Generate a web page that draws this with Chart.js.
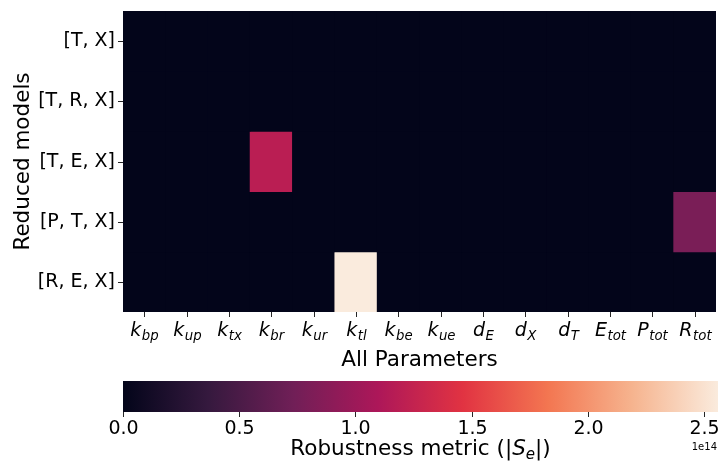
<!DOCTYPE html>
<html><head><meta charset="utf-8">
<script src="https://cdn.jsdelivr.net/npm/chart.js@4/dist/chart.umd.min.js"></script>
<style>
html,body{margin:0;padding:0;background:#fff;}
#wrap{position:relative;width:718px;height:464px;overflow:hidden;background:#fff;}
#c1{position:absolute;left:0;top:0;}
#c2{position:absolute;left:0;top:370px;}
</style></head><body>
<div id="wrap">
<canvas id="c1" width="718" height="370"></canvas>
<canvas id="c2" width="718" height="94"></canvas>
</div>
<script>
// ---- data ----
const rowLabels = ['[T, X]', '[T, R, X]', '[T, E, X]', '[P, T, X]', '[R, E, X]'];
const paramLabels = ['k_bp','k_up','k_tx','k_br','k_ur','k_tl','k_be','k_ue','d_E','d_X','d_T','E_tot','P_tot','R_tot'];
const valsTX  = [0,0,0,0,0,0,0,0,0,0,0,0,0,0];
const valsTRX = [0,0,0,0,0,0,0,0,0,0,0,0,0,0];
const valsTEX = [0,0,0,1.19e14,0,0,0,0,0,0,0,0,0,0];
const valsPTX = [0,0,0,0,0,0,0,0,0,0,0,0,0,0.79e14];
const valsREX = [0,0,0,0,0,2.56e14,0,0,0,0,0,0,0,0];
const colorbarTicks = [0, 0.5e14, 1.0e14, 1.5e14, 2.0e14, 2.5e14];
const colorbarMin = 0;
const colorbarMax = 2.56e14;
const xTitle = 'All Parameters';
const yTitle = 'Reduced models';

// ---- rocket colormap ----
const rocketStops = [
  [0.000, [3,5,26]],
  [0.143, [53,25,62]],
  [0.286, [112,31,87]],
  [0.429, [173,23,89]],
  [0.571, [225,51,66]],
  [0.714, [243,118,81]],
  [0.857, [246,180,143]],
  [1.000, [250,235,221]]
];
function rocketAt(t){
  t = Math.max(0, Math.min(1, t));
  for (let i=1;i<rocketStops.length;i++){
    const [t1,c1]=rocketStops[i], [t0,c0]=rocketStops[i-1];
    if (t<=t1){
      const f=(t-t0)/(t1-t0);
      const c=c0.map((v,k)=>Math.round(v+(c1[k]-v)*f));
      return `rgb(${c[0]},${c[1]},${c[2]})`;
    }
  }
  return 'rgb(250,235,221)';
}
function colorFor(v){ return rocketAt((v-colorbarMin)/(colorbarMax-colorbarMin)); }

const FONT = '"DejaVu Sans", "Liberation Sans", sans-serif';
const TICK_COLOR = '#262626';
const TICK_SIZE = 19;
const TITLE_SIZE = 21.5;

function drawMath(ctx, base, sub, x, y, size, align){
  const f1 = `italic ${size}px ${FONT}`;
  const subSize = size*0.7;
  const f2 = `italic ${subSize}px ${FONT}`;
  ctx.font = f1; const w1 = ctx.measureText(base).width;
  ctx.font = f2; const w2 = sub ? ctx.measureText(sub).width : 0;
  const total = w1 + w2 + (sub?0.5:0);
  let x0 = align==='center' ? x - total/2 : x;
  ctx.textAlign='left'; ctx.textBaseline='alphabetic';
  ctx.font = f1; ctx.fillText(base, x0, y);
  if (sub){ ctx.font = f2; ctx.fillText(sub, x0 + w1 + 0.5, y + size*0.2); }
}

// ---- heatmap axes plugin ----
const heatAxes = {
  id:'heatAxes',
  beforeDatasetsDraw(chart){
    const {ctx, chartArea:a} = chart;
    ctx.save(); ctx.fillStyle = colorFor(0);
    ctx.fillRect(a.left, a.top, a.right-a.left, a.bottom-a.top); ctx.restore();
  },
  afterDraw(chart){
    const {ctx, chartArea:a, scales:{x, y}} = chart;
    ctx.save();
    ctx.strokeStyle = TICK_COLOR; ctx.lineWidth = 1; ctx.fillStyle = '#000';
    rowLabels.forEach((lab,i)=>{
      const py = Math.round(y.getPixelForValue(i+0.5))+0.5;
      ctx.beginPath(); ctx.moveTo(a.left-5, py); ctx.lineTo(a.left, py); ctx.stroke();
      ctx.font = `${TICK_SIZE}px ${FONT}`; ctx.textAlign='right'; ctx.textBaseline='middle';
      ctx.fillText(lab, a.left-8, py);
    });
    paramLabels.forEach((lab,j)=>{
      const px = Math.round(x.getPixelForValue(j))+0.5;
      ctx.beginPath(); ctx.moveTo(px, a.bottom); ctx.lineTo(px, a.bottom+5); ctx.stroke();
      const idx = lab.indexOf('_');
      const base = idx<0 ? lab : lab.slice(0,idx);
      const sub = idx<0 ? '' : lab.slice(idx+1);
      drawMath(ctx, base, sub, px, a.bottom+24, TICK_SIZE, 'center');
    });
    ctx.font = `${TITLE_SIZE}px ${FONT}`; ctx.textAlign='center'; ctx.textBaseline='alphabetic';
    ctx.fillText(xTitle, (a.left+a.right)/2, a.bottom+54);
    ctx.save();
    ctx.translate(29, (a.top+a.bottom)/2); ctx.rotate(-Math.PI/2);
    ctx.textBaseline='alphabetic'; ctx.fillText(yTitle, 0, 0);
    ctx.restore();
    ctx.restore();
  }
};

const rows = [valsTX, valsTRX, valsTEX, valsPTX, valsREX];
new Chart(document.getElementById('c1'), {
  type:'bar',
  data:{
    labels: paramLabels,
    datasets: rows.map((vals,i)=>({
      label: rowLabels[i],
      data: vals.map(()=>1),
      backgroundColor: vals.map(colorFor),
      borderWidth:0, barPercentage:1, categoryPercentage:1
    }))
  },
  options:{
    responsive:false, animation:false,
    layout:{padding:{left:123, right:2, top:11, bottom:58}},
    plugins:{legend:{display:false}, tooltip:{enabled:false}},
    scales:{
      x:{stacked:true, display:false},
      y:{stacked:true, display:false, min:0, max:rows.length, reverse:true}
    }
  },
  plugins:[heatAxes]
});

// ---- colorbar ----
const cbAxes = {
  id:'cbAxes',
  afterDraw(chart){
    const {ctx, chartArea:a, scales:{x}} = chart;
    ctx.save();
    ctx.strokeStyle = TICK_COLOR; ctx.lineWidth=1; ctx.fillStyle='#000';
    colorbarTicks.forEach(v=>{
      const px = Math.round(x.getPixelForValue(v))+0.5;
      ctx.beginPath(); ctx.moveTo(px, a.bottom); ctx.lineTo(px, a.bottom+5); ctx.stroke();
      ctx.font = `${TICK_SIZE}px ${FONT}`; ctx.textAlign='center'; ctx.textBaseline='middle';
      ctx.fillText((v/1e14).toFixed(1), px, a.bottom+17);
    });
    ctx.font = `10px ${FONT}`; ctx.textAlign='right'; ctx.textBaseline='middle';
    ctx.fillText('1e14', 717, a.bottom+35);
    const size=TITLE_SIZE, fN=`${size}px ${FONT}`, fI=`italic ${size}px ${FONT}`, fS=`italic ${size*0.7}px ${FONT}`;
    const parts=[['Robustness metric (|',fN,0],['S',fI,0],['e',fS,size*0.2],['|)',fN,0]];
    let total=0; parts.forEach(p=>{ctx.font=p[1]; p.w=ctx.measureText(p[0]).width; total+=p.w;});
    let cx = (a.left+a.right)/2 - total/2;
    ctx.textAlign='left'; ctx.textBaseline='alphabetic';
    parts.forEach(p=>{ctx.font=p[1]; ctx.fillText(p[0], cx, a.bottom+43+p[2]); cx+=p.w;});
    ctx.restore();
  }
};
new Chart(document.getElementById('c2'), {
  type:'bar',
  data:{ labels:['cbar'], datasets:[{
    data:[[colorbarMin, colorbarMax]],
    backgroundColor:(c)=>{
      const ch=c.chart; if(!ch.chartArea) return colorFor(0);
      const xs=ch.scales.x;
      const g=ch.ctx.createLinearGradient(xs.getPixelForValue(colorbarMin),0,xs.getPixelForValue(colorbarMax),0);
      rocketStops.forEach(([t,col])=>g.addColorStop(t,`rgb(${col[0]},${col[1]},${col[2]})`));
      return g;
    },
    borderWidth:0, barPercentage:1, categoryPercentage:1
  }]},
  options:{
    indexAxis:'y', responsive:false, animation:false,
    layout:{padding:{left:123, right:0, top:11, bottom:52}},
    plugins:{legend:{display:false}, tooltip:{enabled:false}},
    scales:{ x:{type:'linear', min:colorbarMin, max:colorbarMax, display:false}, y:{display:false} }
  },
  plugins:[cbAxes]
});
</script>
</body></html>
